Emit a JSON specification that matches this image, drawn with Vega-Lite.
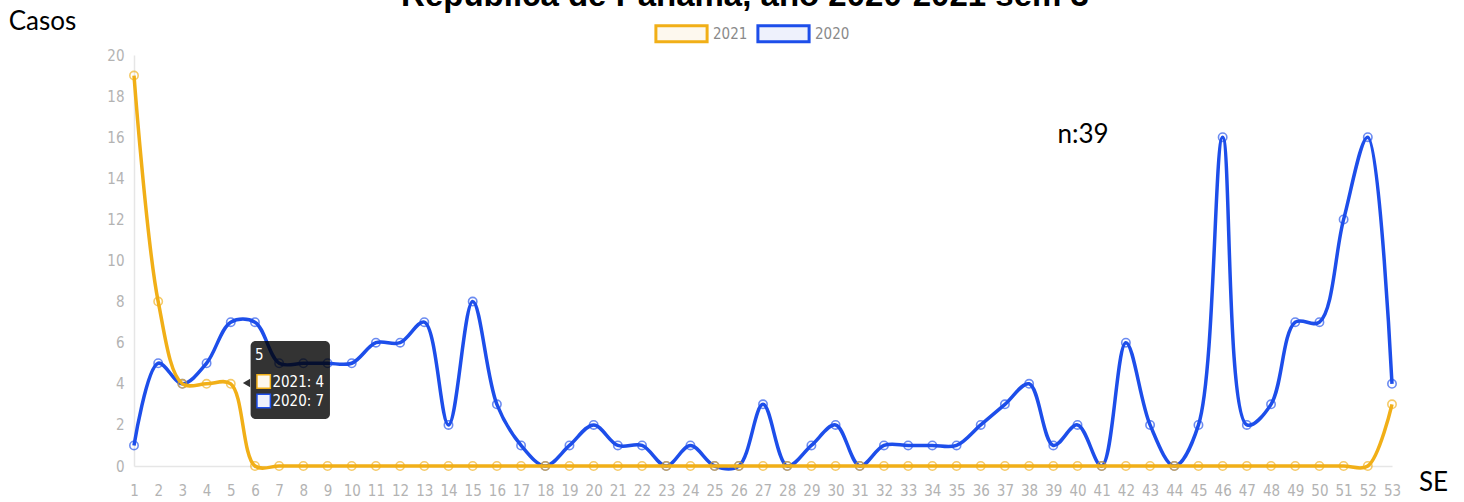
{
  "$schema": "https://vega.github.io/schema/vega-lite/v6.json",
  "width": 1258,
  "height": 411,
  "autosize": {"type": "none"},
  "padding": {"left": 134, "top": 55, "right": 72, "bottom": 36},
  "background": "white",
  "title": {
    "text": "República de Panamá, año 2020-2021 sem 3",
    "font": "Liberation Sans",
    "fontSize": 33,
    "fontWeight": "bold",
    "color": "#000000",
    "anchor": "middle",
    "frame": "group",
    "baseline": "alphabetic",
    "offset": 0,
    "dy": 31,
    "dx": -18
  },
  "config": {
    "view": {"stroke": null},
    "axis": {
      "labelFont": "Liberation Sans Narrow, DejaVu Sans Condensed, sans-serif",
      "labelFontSize": 15,
      "labelColor": "#b3b3b3",
      "labelOverlap": false,
      "labelSeparation": 0,
      "domainColor": "#e6e6e6",
      "domainWidth": 1.5,
      "ticks": false,
      "grid": false,
      "titleFont": "Lato",
      "titleFontSize": 26,
      "titleFontWeight": "normal",
      "titleColor": "#000000"
    },
    "legend": {
      "labelFont": "Liberation Sans Narrow, DejaVu Sans Condensed, sans-serif",
      "labelFontSize": 15,
      "labelColor": "#8a8a8a"
    }
  },
  "datasets": {
    "main": [
      {"week": 1, "year": "2020", "cases": 1}, {"week": 2, "year": "2020", "cases": 5}, {"week": 3, "year": "2020", "cases": 4},
      {"week": 4, "year": "2020", "cases": 5}, {"week": 5, "year": "2020", "cases": 7}, {"week": 6, "year": "2020", "cases": 7},
      {"week": 7, "year": "2020", "cases": 5}, {"week": 8, "year": "2020", "cases": 5}, {"week": 9, "year": "2020", "cases": 5},
      {"week": 10, "year": "2020", "cases": 5}, {"week": 11, "year": "2020", "cases": 6}, {"week": 12, "year": "2020", "cases": 6},
      {"week": 13, "year": "2020", "cases": 7}, {"week": 14, "year": "2020", "cases": 2}, {"week": 15, "year": "2020", "cases": 8},
      {"week": 16, "year": "2020", "cases": 3}, {"week": 17, "year": "2020", "cases": 1}, {"week": 18, "year": "2020", "cases": 0},
      {"week": 19, "year": "2020", "cases": 1}, {"week": 20, "year": "2020", "cases": 2}, {"week": 21, "year": "2020", "cases": 1},
      {"week": 22, "year": "2020", "cases": 1}, {"week": 23, "year": "2020", "cases": 0}, {"week": 24, "year": "2020", "cases": 1},
      {"week": 25, "year": "2020", "cases": 0}, {"week": 26, "year": "2020", "cases": 0}, {"week": 27, "year": "2020", "cases": 3},
      {"week": 28, "year": "2020", "cases": 0}, {"week": 29, "year": "2020", "cases": 1}, {"week": 30, "year": "2020", "cases": 2},
      {"week": 31, "year": "2020", "cases": 0}, {"week": 32, "year": "2020", "cases": 1}, {"week": 33, "year": "2020", "cases": 1},
      {"week": 34, "year": "2020", "cases": 1}, {"week": 35, "year": "2020", "cases": 1}, {"week": 36, "year": "2020", "cases": 2},
      {"week": 37, "year": "2020", "cases": 3}, {"week": 38, "year": "2020", "cases": 4}, {"week": 39, "year": "2020", "cases": 1},
      {"week": 40, "year": "2020", "cases": 2}, {"week": 41, "year": "2020", "cases": 0}, {"week": 42, "year": "2020", "cases": 6},
      {"week": 43, "year": "2020", "cases": 2}, {"week": 44, "year": "2020", "cases": 0}, {"week": 45, "year": "2020", "cases": 2},
      {"week": 46, "year": "2020", "cases": 16}, {"week": 47, "year": "2020", "cases": 2}, {"week": 48, "year": "2020", "cases": 3},
      {"week": 49, "year": "2020", "cases": 7}, {"week": 50, "year": "2020", "cases": 7}, {"week": 51, "year": "2020", "cases": 12},
      {"week": 52, "year": "2020", "cases": 16}, {"week": 53, "year": "2020", "cases": 4},
      {"week": 1, "year": "2021", "cases": 19}, {"week": 2, "year": "2021", "cases": 8}, {"week": 3, "year": "2021", "cases": 4},
      {"week": 4, "year": "2021", "cases": 4}, {"week": 5, "year": "2021", "cases": 4}, {"week": 6, "year": "2021", "cases": 0},
      {"week": 7, "year": "2021", "cases": 0}, {"week": 8, "year": "2021", "cases": 0}, {"week": 9, "year": "2021", "cases": 0},
      {"week": 10, "year": "2021", "cases": 0}, {"week": 11, "year": "2021", "cases": 0}, {"week": 12, "year": "2021", "cases": 0},
      {"week": 13, "year": "2021", "cases": 0}, {"week": 14, "year": "2021", "cases": 0}, {"week": 15, "year": "2021", "cases": 0},
      {"week": 16, "year": "2021", "cases": 0}, {"week": 17, "year": "2021", "cases": 0}, {"week": 18, "year": "2021", "cases": 0},
      {"week": 19, "year": "2021", "cases": 0}, {"week": 20, "year": "2021", "cases": 0}, {"week": 21, "year": "2021", "cases": 0},
      {"week": 22, "year": "2021", "cases": 0}, {"week": 23, "year": "2021", "cases": 0}, {"week": 24, "year": "2021", "cases": 0},
      {"week": 25, "year": "2021", "cases": 0}, {"week": 26, "year": "2021", "cases": 0}, {"week": 27, "year": "2021", "cases": 0},
      {"week": 28, "year": "2021", "cases": 0}, {"week": 29, "year": "2021", "cases": 0}, {"week": 30, "year": "2021", "cases": 0},
      {"week": 31, "year": "2021", "cases": 0}, {"week": 32, "year": "2021", "cases": 0}, {"week": 33, "year": "2021", "cases": 0},
      {"week": 34, "year": "2021", "cases": 0}, {"week": 35, "year": "2021", "cases": 0}, {"week": 36, "year": "2021", "cases": 0},
      {"week": 37, "year": "2021", "cases": 0}, {"week": 38, "year": "2021", "cases": 0}, {"week": 39, "year": "2021", "cases": 0},
      {"week": 40, "year": "2021", "cases": 0}, {"week": 41, "year": "2021", "cases": 0}, {"week": 42, "year": "2021", "cases": 0},
      {"week": 43, "year": "2021", "cases": 0}, {"week": 44, "year": "2021", "cases": 0}, {"week": 45, "year": "2021", "cases": 0},
      {"week": 46, "year": "2021", "cases": 0}, {"week": 47, "year": "2021", "cases": 0}, {"week": 48, "year": "2021", "cases": 0},
      {"week": 49, "year": "2021", "cases": 0}, {"week": 50, "year": "2021", "cases": 0}, {"week": 51, "year": "2021", "cases": 0},
      {"week": 52, "year": "2021", "cases": 0}, {"week": 53, "year": "2021", "cases": 3}
    ],
    "tipbox": [{"week": 5.82, "week2": 9.1, "cases": 6.08, "cases2": 2.29}],
    "tiparrow": [{"week": 5.65, "cases": 4.04}],
    "tipsq": [
      {"week": 6.36, "cases": 4.11, "year": "2021"},
      {"week": 6.36, "cases": 3.16, "year": "2020"}
    ],
    "tiptext": [
      {"week": 6.0, "cases": 5.42, "label": "5", "bold": "yes"},
      {"week": 6.72, "cases": 4.11, "label": "2021: 4", "bold": "no"},
      {"week": 6.72, "cases": 3.16, "label": "2020: 7", "bold": "no"}
    ],
    "note": [{"week": 40.23, "cases": 16.1, "label": "n:39"}]
  },
  "encoding": {
    "x": {
      "field": "week", "type": "quantitative",
      "scale": {"domain": [1, 53], "nice": false, "zero": false},
      "axis": {
        "values": [1,2,3,4,5,6,7,8,9,10,11,12,13,14,15,16,17,18,19,20,21,22,23,24,25,26,27,28,29,30,31,32,33,34,35,36,37,38,39,40,41,42,43,44,45,46,47,48,49,50,51,52,53],
        "labelPadding": 17,
        "labelFlush": false,
        "labelOverlap": false,
        "labelSeparation": 0,
        "title": "SE",
        "titleX": 1299,
        "titleY": 16,
        "titleAlign": "center",
        "titleBaseline": "middle"
      }
    },
    "y": {
      "field": "cases", "type": "quantitative",
      "scale": {"domain": [0, 20], "nice": false},
      "axis": {
        "values": [0,2,4,6,8,10,12,14,16,18,20],
        "labelPadding": 10,
        "title": "Casos",
        "titleAngle": 0,
        "titleX": -92,
        "titleY": -34,
        "titleAlign": "center",
        "titleBaseline": "middle"
      }
    }
  },
  "layer": [
    {
      "data": {"name": "main"},
      "transform": [{"filter": "datum.year === '2020'"}],
      "mark": {
        "type": "line",
        "interpolate": "catmull-rom",
        "strokeWidth": 3.5,
        "point": {"filled": false, "size": 70, "strokeWidth": 1.6, "opacity": 0.65}
      },
      "encoding": {
        "color": {
          "field": "year", "type": "nominal",
          "scale": {"domain": ["2021", "2020"], "range": ["#F1AF17", "#1D4EEA"]},
          "legend": {
            "orient": "none",
            "legendX": 530,
            "legendY": -39,
            "direction": "horizontal",
            "title": null,
            "symbolType": "M-1.6,-0.5H1.6V0.5H-1.6Z",
            "symbolSize": 1024,
            "symbolStrokeWidth": 3,
            "labelOffset": 14,
            "columnPadding": 3,
            "encode": {
              "symbols": {"update": {"fill": {"signal": "datum.value === '2021' ? '#fdf8ee' : '#eef1fc'"}, "fillOpacity": {"value": 1}}}
            }
          }
        }
      }
    },
    {
      "data": {"name": "main"},
      "transform": [{"filter": "datum.year === '2021'"}],
      "mark": {
        "type": "line",
        "interpolate": "catmull-rom",
        "strokeWidth": 3.5,
        "point": {"filled": false, "size": 70, "strokeWidth": 1.6, "opacity": 0.65}
      },
      "encoding": {
        "color": {"field": "year", "type": "nominal"}
      }
    },
    {
      "data": {"name": "note"},
      "mark": {"type": "text", "font": "Lato", "fontSize": 26, "color": "#000000", "align": "center", "baseline": "middle"},
      "encoding": {
        "text": {"field": "label"}
      }
    },
    {
      "data": {"name": "tipbox"},
      "mark": {"type": "rect", "color": "#000000", "opacity": 0.8, "cornerRadius": 5},
      "encoding": {
        "x2": {"field": "week2"},
        "y2": {"field": "cases2"}
      }
    },
    {
      "data": {"name": "tiparrow"},
      "mark": {"type": "point", "shape": "triangle-left", "filled": true, "color": "#000000", "opacity": 0.8, "size": 70}
    },
    {
      "data": {"name": "tipsq"},
      "mark": {"type": "square", "filled": true, "size": 180, "strokeWidth": 1.5, "opacity": 1},
      "encoding": {
        "stroke": {"field": "year", "type": "nominal", "scale": {"domain": ["2021", "2020"], "range": ["#F1AF17", "#1D4EEA"]}, "legend": null},
        "fill": {"field": "year", "type": "nominal", "scale": {"domain": ["2021", "2020"], "range": ["#fdf8ee", "#eef1fc"]}, "legend": null}
      }
    },
    {
      "data": {"name": "tiptext"},
      "mark": {"type": "text", "font": "Liberation Sans Narrow, DejaVu Sans Condensed, sans-serif", "fontSize": 15, "color": "#ffffff", "align": "left", "baseline": "middle"},
      "encoding": {
        "text": {"field": "label"},
        "fontWeight": {"field": "bold", "type": "nominal", "scale": {"domain": ["yes", "no"], "range": ["bold", "normal"]}, "legend": null}
      }
    }
  ]
}
